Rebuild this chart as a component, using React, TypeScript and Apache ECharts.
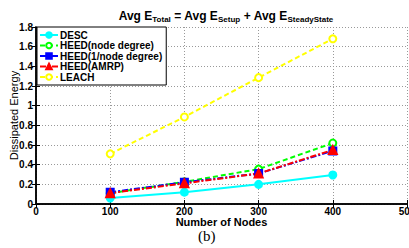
import React, { useEffect, useRef } from "react";
import * as echarts from "echarts";

const nodes = [100, 200, 300, 400];
const desc = [0.06, 0.12, 0.2, 0.295];
const heedDeg = [0.11, 0.225, 0.355, 0.62];
const heedInv = [0.12, 0.22, 0.31, 0.54];
const heedAmrp = [0.11, 0.21, 0.31, 0.55];
const leach = [0.51, 0.885, 1.285, 1.68];
const xTicks = [0, 100, 200, 300, 400, 500];
const yTicks = [0, 0.2, 0.4, 0.6, 0.8, 1, 1.2, 1.4, 1.6, 1.8];

const FONT = "Liberation Sans, Arial, sans-serif";

export default function App() {
  const ref = useRef<HTMLDivElement>(null);
  useEffect(() => {
    if (!ref.current) return;
    const chart = echarts.init(ref.current, undefined, { renderer: "svg" });
    const mk = (name: string, data: number[], color: string, type: any, symbol: string, filled: boolean) => ({
      name,
      type: "line",
      data: nodes.map((n, i) => [n, data[i]]),
      symbol,
      symbolSize: symbol === "triangle" ? 8 : 7,
      showSymbol: true,
      lineStyle: { color, width: 2, type },
      itemStyle: { color: filled ? color : "#ffffff", borderColor: color, borderWidth: 2 },
      emphasis: { disabled: true },
    });
    const axisText = { fontFamily: FONT, fontWeight: "bold", fontSize: 10, color: "#000" };
    chart.setOption({
      animation: false,
      backgroundColor: "#ffffff",
      title: {
        text: "Avg E{s|Total} = Avg E{s|Setup} + Avg E{s|SteadyState}",
        left: 221,
        textAlign: "center",
        top: 3,
        textStyle: {
          fontFamily: FONT,
          fontWeight: "bold",
          fontSize: 12,
          color: "#000",
          rich: {
            s: { fontFamily: FONT, fontWeight: "bold", fontSize: 8, color: "#000", padding: [7, 0, 0, 0] },
          },
        },
      },
      legend: {
        orient: "vertical",
        left: 37,
        top: 27,
        padding: [3, 4, 3, 2],
        itemGap: 0.5,
        itemWidth: 18,
        itemHeight: 7,
        backgroundColor: "#ffffff",
        borderColor: "#000",
        borderWidth: 1,
        borderRadius: 0,
        textStyle: {
          fontFamily: FONT,
          fontWeight: "bold",
          fontSize: 10,
          lineHeight: 10,
          color: "#000",
          padding: [0, 0, 0, -3],
        },
        data: ["DESC", "HEED(node degree)", "HEED(1/node degree)", "HEED(AMRP)", "LEACH"],
      },
      grid: { left: 36, right: 2, top: 27, bottom: 44, containLabel: false, outerBoundsMode: "none" },
      xAxis: [
        {
          type: "value",
          min: 0,
          max: 500,
          interval: 100,
          name: "Number of Nodes",
          nameLocation: "middle",
          nameGap: 12,
          nameMoveOverlap: false,
          nameTextStyle: { ...axisText, fontSize: 11, lineHeight: 11 },
          axisLine: { onZero: false, lineStyle: { color: "#000", width: 1.5 } },
          axisTick: { inside: true, length: 4, lineStyle: { color: "#000" } },
          axisLabel: { ...axisText, lineHeight: 10, margin: 2 },
          splitLine: { show: true, lineStyle: { color: "#999", type: [1, 2], width: 1 } },
        },
        {
          type: "value",
          position: "top",
          min: 0,
          max: 500,
          interval: 100,
          axisLine: { lineStyle: { color: "#000", width: 1.5 } },
          axisTick: { inside: true, length: 4, lineStyle: { color: "#000" } },
          axisLabel: { show: false },
          splitLine: { show: false },
        },
      ],
      yAxis: [
        {
          type: "value",
          min: 0,
          max: 1.8,
          interval: 0.2,
          name: "Dissipated Energy",
          nameLocation: "middle",
          nameGap: 17,
          nameMoveOverlap: false,
          nameTextStyle: { fontFamily: FONT, fontSize: 11, color: "#000" },
          axisLine: { show: true, onZero: false, lineStyle: { color: "#000", width: 1.5 } },
          axisTick: { show: true, inside: true, length: 4, lineStyle: { color: "#000" } },
          axisLabel: {
            ...axisText,
            margin: 3,
            formatter: (v: number) => {
              const r = Math.round(v * 10) / 10;
              return yTicks.includes(r) ? String(r) : "";
            },
          },
          splitLine: { show: true, lineStyle: { color: "#999", type: [1, 2], width: 1 } },
        },
        {
          type: "value",
          position: "right",
          min: 0,
          max: 1.8,
          interval: 0.2,
          axisLine: { show: true, lineStyle: { color: "#000", width: 1.5 } },
          axisTick: { show: true, inside: true, length: 4, lineStyle: { color: "#000" } },
          axisLabel: { show: false },
          splitLine: { show: false },
        },
      ],
      graphic: [
        {
          type: "text",
          left: 198,
          top: 228,
          style: { text: "(b)", font: "15px 'Liberation Serif', 'Times New Roman', serif", fill: "#000" },
        },
      ],
      series: [
        mk("DESC", desc, "#00FFFF", "solid", "circle", true),
        mk("HEED(node degree)", heedDeg, "#00FF00", [5, 3], "circle", false),
        mk("HEED(1/node degree)", heedInv, "#0000FF", [6, 2, 2, 2], "rect", true),
        mk("HEED(AMRP)", heedAmrp, "#FF0000", [6, 2, 2, 2], "triangle", true),
        mk("LEACH", leach, "#FFFF00", [5, 3], "circle", false),
      ],
    });
    return () => chart.dispose();
  }, []);
  return <div ref={ref} style={{ width: 409, height: 248, position: "absolute", left: 0, top: 0 }} />;
}
